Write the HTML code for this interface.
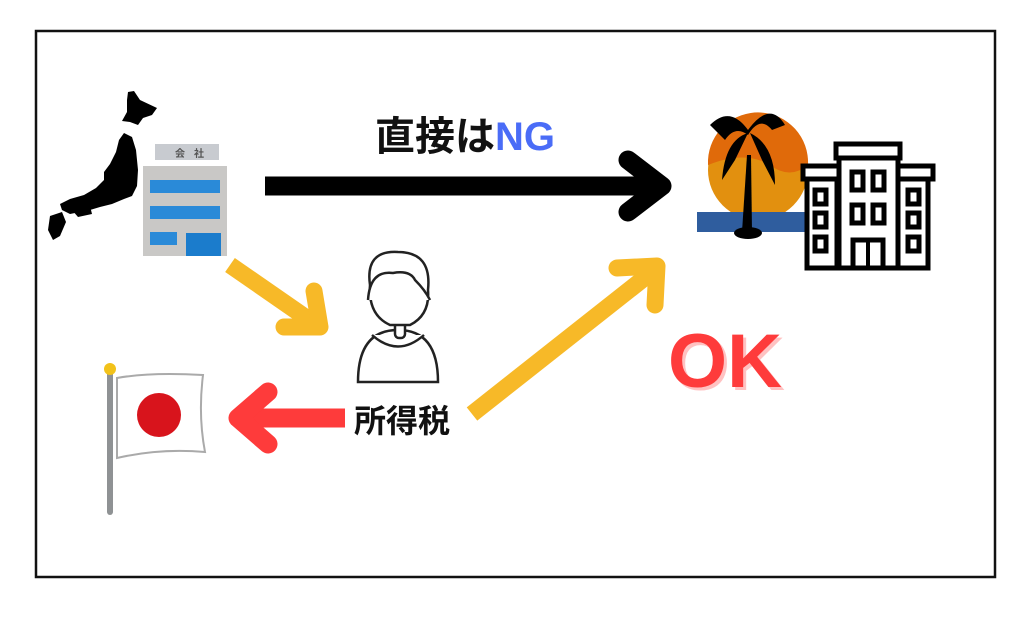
<!DOCTYPE html>
<html><head><meta charset="utf-8"><style>
html,body{margin:0;padding:0;background:#fff;width:1024px;height:624px;overflow:hidden}
.t{position:absolute;font-family:"Liberation Sans","Noto Sans CJK JP",sans-serif;font-weight:bold;white-space:nowrap}
</style></head><body>
<svg width="1024" height="624" style="position:absolute;left:0;top:0">
<rect x="36" y="31" width="959" height="546" fill="#fff" stroke="#111" stroke-width="2.5"/>
<!-- black arrow -->
<line x1="265" y1="186" x2="660" y2="186" stroke="#000" stroke-width="19"/>
<polyline points="628,160 662,186 628,212" fill="none" stroke="#000" stroke-width="19" stroke-linecap="round" stroke-linejoin="round"/>
<!-- yellow arrow 1 -->
<line x1="230" y1="265" x2="318" y2="326" stroke="#f7b928" stroke-width="17"/>
<polyline points="284,327 320,327 314,291" fill="none" stroke="#f7b928" stroke-width="17" stroke-linecap="round" stroke-linejoin="round"/>
<!-- yellow arrow 2 -->
<line x1="472" y1="414" x2="657" y2="268" stroke="#f7b928" stroke-width="17"/>
<polyline points="617,268 657,266 655,305" fill="none" stroke="#f7b928" stroke-width="17" stroke-linecap="round" stroke-linejoin="round"/>
<!-- red arrow -->
<line x1="345" y1="418" x2="240" y2="418" stroke="#fe3b3b" stroke-width="19"/>
<polyline points="268,392 238,418 268,444" fill="none" stroke="#fe3b3b" stroke-width="19" stroke-linecap="round" stroke-linejoin="round"/>
<!-- Japan map -->
<path d="M128,92 L134,91 L140,100 L157,108 L152,115 L143,118 L138,125 L130,122 L122,121 L127,112 L127,100 Z" fill="#000"/>
<path d="M124,133 L132,137 L136,150 L138,170 L137,186 L132,196 L124,199 L112,204 L100,207 L90,210 L80,212 L70,214 L62,210 L60,204 L70,199 L84,195 L96,188 L104,180 L104,172 L110,164 L116,152 L119,140 Z" fill="#000"/>
<path d="M72,210 L90,206 L92,214 L78,217 Z" fill="#000"/>
<path d="M50,216 L62,212 L66,222 L60,236 L53,240 L48,230 Z" fill="#000"/>
<!-- company building -->
<rect x="155" y="144" width="64" height="16" fill="#c8cbd0"/>
<text x="175" y="157" font-family="Noto Sans CJK JP" font-size="10" font-weight="bold" fill="#555">会</text>
<text x="194" y="157" font-family="Noto Sans CJK JP" font-size="10" font-weight="bold" fill="#555">社</text>
<rect x="143" y="166" width="84" height="90" fill="#c9c8c6"/>
<rect x="150" y="180" width="70" height="13" fill="#2a8ad8"/>
<rect x="150" y="206" width="70" height="13" fill="#2a8ad8"/>
<rect x="150" y="232" width="27" height="13" fill="#2a8ad8"/>
<rect x="186" y="233" width="35" height="23" fill="#1b7ccc"/>
<!-- sun, sea, palm -->
<circle cx="758" cy="170" r="50" fill="#e2900f"/>
<path d="M708,160 A50,50 0 0 1 808,165 Q790,180 770,165 Q745,150 708,165 Z" fill="#e06a0a"/>
<rect x="697" y="212" width="108" height="20" fill="#2f5d9e"/>
<path d="M742,232 L747,155 L751,155 L752,232 Z" fill="#000"/>
<path d="M748,130 Q730,105 710,125 L725,140 Q735,125 748,135 Q760,115 772,130 L785,125 Q770,100 748,130 Z M748,133 Q725,140 722,180 L735,160 Z M750,133 Q775,145 775,185 L762,160 Z" fill="#000"/>
<ellipse cx="748" cy="233" rx="14" ry="6" fill="#000"/>
<!-- outline building -->
<g fill="#fff" stroke="#000" stroke-width="5">
<rect x="807" y="166" width="30" height="102"/>
<rect x="898" y="166" width="30" height="102"/>
<rect x="803" y="166" width="40" height="13"/>
<rect x="893" y="166" width="40" height="13"/>
<rect x="839" y="151" width="59" height="117"/>
<rect x="836" y="144" width="64" height="14"/>
<rect x="852" y="172" width="11" height="18"/><rect x="873" y="172" width="11" height="18"/>
<rect x="852" y="205" width="11" height="18"/><rect x="873" y="205" width="11" height="18"/>
<rect x="853" y="240" width="30" height="28"/>
<rect x="815" y="190" width="11" height="14"/><rect x="815" y="213" width="11" height="14"/><rect x="815" y="237" width="11" height="14"/>
<rect x="908" y="190" width="11" height="14"/><rect x="908" y="213" width="11" height="14"/><rect x="908" y="237" width="11" height="14"/>
</g>
<line x1="868" y1="240" x2="868" y2="268" stroke="#000" stroke-width="4"/>
<!-- person -->
<g fill="#fff" stroke="#222" stroke-width="2.5">
<path d="M358,382 Q358,330 398,330 Q438,330 438,382 Z"/>
<path d="M372,335 Q398,358 424,335"/>
<rect x="395" y="322" width="10" height="16" rx="4"/>
<path d="M370,285 Q365,250 398,252 Q432,252 428,290 Q430,315 410,325 L390,325 Q368,315 370,285 Z"/>
<path d="M368,300 Q370,270 393,273 Q410,270 415,280 Q425,290 430,300"/>
</g>
<!-- flag -->
<line x1="110" y1="372" x2="110" y2="512" stroke="#8f9294" stroke-width="6" stroke-linecap="round"/>
<circle cx="110" cy="369" r="6" fill="#f2c21a"/>
<path d="M117,378 Q150,372 203,375 Q198,415 205,452 Q160,448 117,458 Z" fill="#fff" stroke="#aaa" stroke-width="2"/>
<circle cx="159" cy="415" r="22" fill="#d8141c"/>
</svg>
<div class="t" style="left:375px;top:104px;font-size:40px;color:#111">直接は<span style="color:#4a6cf7">NG</span></div>
<div class="t" style="left:354px;top:396px;font-size:32px;color:#111">所得税</div>
<div class="t" style="left:668px;top:318px;font-size:76px;color:#fe3b3b;text-shadow:3px 3px 0 #ffc2c2">OK</div>
</body></html>
